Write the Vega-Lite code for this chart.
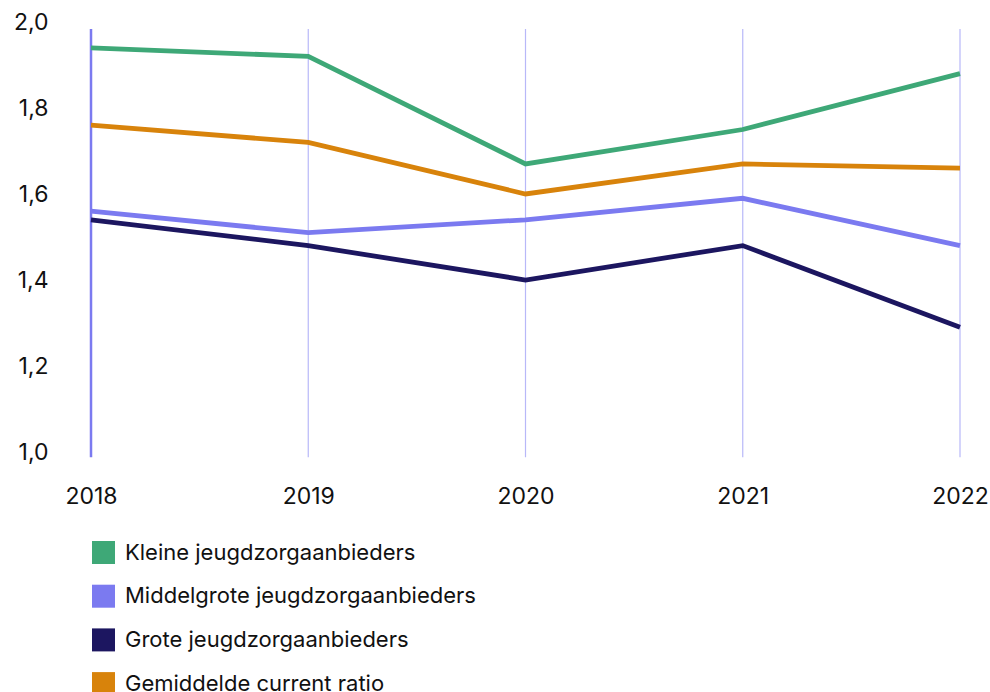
{
  "$schema": "https://vega.github.io/schema/vega-lite/v6.json",
  "width": 869,
  "height": 430,
  "autosize": {"type": "none"},
  "padding": {"left": 91, "top": 22, "right": 30, "bottom": 240},
  "background": "white",
  "config": {
    "view": {"stroke": null},
    "font": "Inter"
  },
  "datasets": {
    "ratios": [
      {"jaar": "2018", "groep": "Kleine jeugdzorgaanbieders", "ratio": 1.94},
      {"jaar": "2019", "groep": "Kleine jeugdzorgaanbieders", "ratio": 1.92},
      {"jaar": "2020", "groep": "Kleine jeugdzorgaanbieders", "ratio": 1.67},
      {"jaar": "2021", "groep": "Kleine jeugdzorgaanbieders", "ratio": 1.75},
      {"jaar": "2022", "groep": "Kleine jeugdzorgaanbieders", "ratio": 1.88},
      {"jaar": "2018", "groep": "Middelgrote jeugdzorgaanbieders", "ratio": 1.56},
      {"jaar": "2019", "groep": "Middelgrote jeugdzorgaanbieders", "ratio": 1.51},
      {"jaar": "2020", "groep": "Middelgrote jeugdzorgaanbieders", "ratio": 1.54},
      {"jaar": "2021", "groep": "Middelgrote jeugdzorgaanbieders", "ratio": 1.59},
      {"jaar": "2022", "groep": "Middelgrote jeugdzorgaanbieders", "ratio": 1.48},
      {"jaar": "2018", "groep": "Grote jeugdzorgaanbieders", "ratio": 1.54},
      {"jaar": "2019", "groep": "Grote jeugdzorgaanbieders", "ratio": 1.48},
      {"jaar": "2020", "groep": "Grote jeugdzorgaanbieders", "ratio": 1.40},
      {"jaar": "2021", "groep": "Grote jeugdzorgaanbieders", "ratio": 1.48},
      {"jaar": "2022", "groep": "Grote jeugdzorgaanbieders", "ratio": 1.29},
      {"jaar": "2018", "groep": "Gemiddelde current ratio", "ratio": 1.76},
      {"jaar": "2019", "groep": "Gemiddelde current ratio", "ratio": 1.72},
      {"jaar": "2020", "groep": "Gemiddelde current ratio", "ratio": 1.60},
      {"jaar": "2021", "groep": "Gemiddelde current ratio", "ratio": 1.67},
      {"jaar": "2022", "groep": "Gemiddelde current ratio", "ratio": 1.66}
    ],
    "jaren": [
      {"jaar": "2018"}, {"jaar": "2019"}, {"jaar": "2020"}, {"jaar": "2021"}, {"jaar": "2022"}
    ]
  },
  "layer": [
    {
      "data": {"name": "jaren"},
      "mark": {"type": "rule"},
      "encoding": {
        "x": {
          "field": "jaar", "type": "ordinal",
          "scale": {"type": "point", "padding": 0},
          "axis": {
            "title": null, "domain": false, "ticks": false, "grid": false,
            "labelAngle": 0, "labelFontSize": 23, "labelColor": "#111111",
            "labelPadding": 33, "labelFont": "Inter"
          }
        },
        "y": {"datum": 0.988, "type": "quantitative"},
        "y2": {"datum": 1.984},
        "color": {
          "condition": {"test": "datum.jaar === '2018'", "value": "#7b7af0"},
          "value": "#b8b8f8"
        },
        "strokeWidth": {
          "condition": {"test": "datum.jaar === '2018'", "value": 2.5},
          "value": 1.2
        }
      }
    },
    {
      "data": {"name": "ratios"},
      "mark": {"type": "line", "strokeWidth": 4.8, "strokeJoin": "miter", "strokeCap": "butt"},
      "encoding": {
        "x": {"field": "jaar", "type": "ordinal"},
        "y": {
          "field": "ratio", "type": "quantitative",
          "scale": {"domain": [1, 2], "nice": false, "zero": false},
          "axis": {
            "title": null, "domain": false, "ticks": false, "grid": false,
            "values": [1, 1.2, 1.4, 1.6, 1.8, 2],
            "labelExpr": "replace(format(datum.value, '.1f'), '.', ',')",
            "labelFontSize": 23, "labelColor": "#111111", "labelPadding": 43,
            "labelFont": "Inter"
          }
        },
        "color": {
          "field": "groep", "type": "nominal",
          "scale": {
            "domain": [
              "Kleine jeugdzorgaanbieders",
              "Middelgrote jeugdzorgaanbieders",
              "Grote jeugdzorgaanbieders",
              "Gemiddelde current ratio"
            ],
            "range": ["#3ea877", "#7b7af0", "#1c1660", "#d8830b"]
          },
          "legend": {
            "title": null,
            "orient": "none",
            "legendX": 1,
            "legendY": 519,
            "direction": "vertical",
            "symbolType": "square",
            "symbolSize": 529,
            "symbolStrokeWidth": 0,
            "symbolOpacity": 1,
            "labelFontSize": 22,
            "labelColor": "#111111",
            "labelFont": "Inter",
            "labelOffset": 10,
            "rowPadding": 20.7,
            "labelLimit": 600,
            "encode": {
              "symbols": {
                "update": {
                  "fill": {"scale": "color", "field": "value"},
                  "fillOpacity": {"value": 1}
                }
              }
            }
          }
        }
      }
    }
  ]
}
